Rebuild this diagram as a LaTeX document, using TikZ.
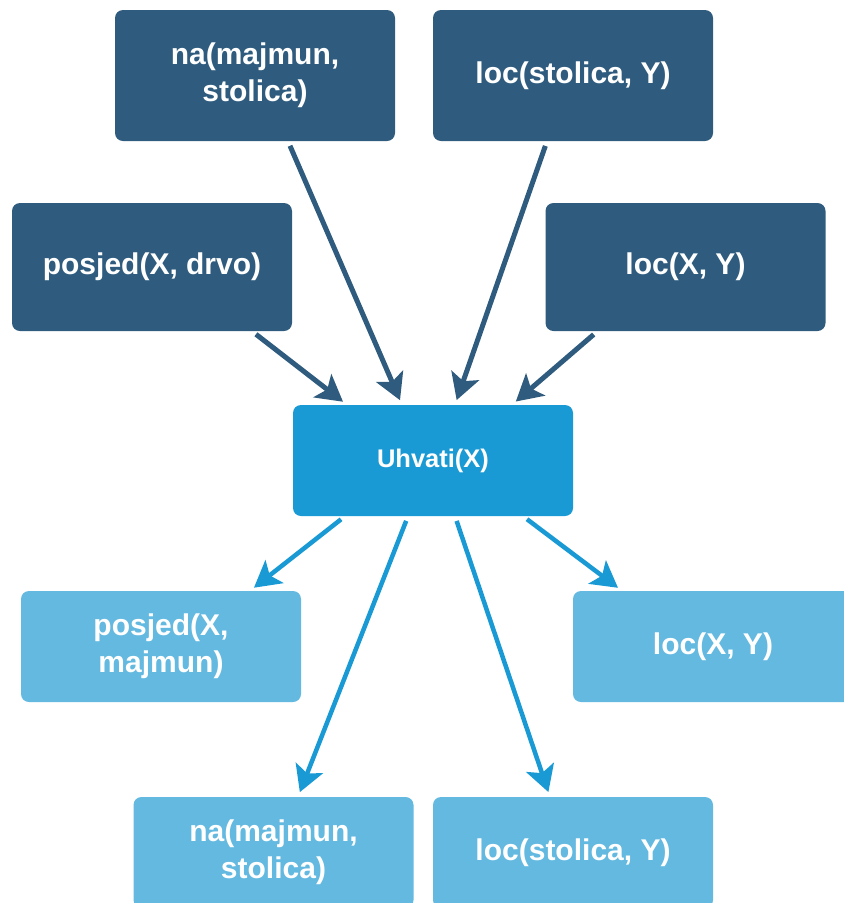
\documentclass[tikz,border=0pt]{standalone}
\usepackage{fontspec}
\setmainfont{Liberation Sans}
\usetikzlibrary{arrows.meta, positioning}
\definecolor{darkblue}{RGB}{47,92,126}
\definecolor{midblue}{RGB}{26,154,212}
\definecolor{lightblue}{RGB}{99,185,224}
\tikzset{
  factbox/.style={rectangle, rounded corners=8pt, minimum width=280pt, inner sep=0pt,
    text=white, align=center, font=\bfseries\fontsize{30}{37}\selectfont},
  prebox/.style={factbox, fill=darkblue},
  addbox/.style={factbox, fill=lightblue, minimum height=111pt},
  prearrow/.style={draw=darkblue, line width=5pt, shorten <=5pt, shorten >=5pt,
    -{Stealth[length=26pt, width=29pt, inset=6pt]}},
  addarrow/.style={draw=midblue, line width=4.5pt, shorten <=5pt, shorten >=5pt,
    -{Stealth[length=26pt, width=29pt, inset=6pt]}}
}

\begin{document}
\begin{tikzpicture}[x=1pt, y=-1pt]
\useasboundingbox (0,0) rectangle (844,903);
% preconditions
\node [prebox, minimum height=131pt] (natop) at (255, 75.5) {na(majmun,\\stolica)};
\node [prebox, minimum height=131pt] (loctop) at (573, 75.5) {loc(stolica, Y)};
\node [prebox, minimum height=128pt] (posjedpre) at (152, 267) {posjed(X, drvo)};
\node [prebox, minimum height=128pt] (locpre) at (685.5, 267) {loc(X, Y)};
% action
\node [factbox, fill=midblue, minimum height=111pt, font=\bfseries\fontsize{25.5}{30}\selectfont] (uhvati) at (433, 460.5) {Uhvati(X)};
% effects
\node [addbox] (posjedpost) at (161, 646.5) {posjed(X,\\majmun)};
\node [addbox] (locpost) at (713, 646.5) {loc(X, Y)};
\node [addbox] (nabot) at (273.5, 852.5) {na(majmun,\\stolica)};
\node [addbox] (locbot) at (573, 852.5) {loc(stolica, Y)};
% arrows into the action
\draw [prearrow] ([xshift=33pt]natop.south) -- ([xshift=-31pt]uhvati.north);
\draw [prearrow] ([xshift=-26pt]loctop.south) -- ([xshift=22pt]uhvati.north);
\draw [prearrow] ([xshift=100pt]posjedpre.south) -- ([xshift=-86pt]uhvati.north);
\draw [prearrow] ([xshift=-88pt]locpre.south) -- ([xshift=79pt]uhvati.north);
% arrows out of the action
\draw [addarrow] ([xshift=-88pt]uhvati.south) -- ([xshift=89pt]posjedpost.north);
\draw [addarrow] ([xshift=-25pt]uhvati.south) -- ([xshift=24.5pt]nabot.north);
\draw [addarrow] ([xshift=22pt]uhvati.south) -- ([xshift=-23pt]locbot.north);
\draw [addarrow] ([xshift=90pt]uhvati.south) -- ([xshift=-91pt]locpost.north);
\end{tikzpicture}
\end{document}
